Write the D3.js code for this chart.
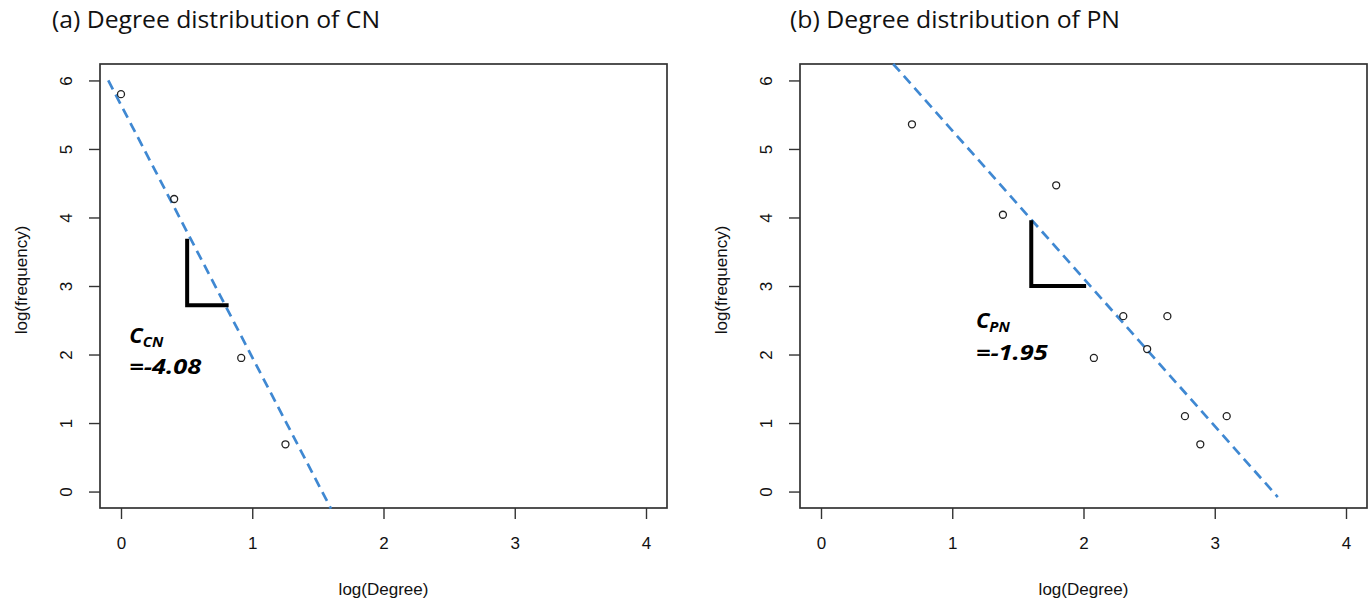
<!DOCTYPE html>
<html><head><meta charset="utf-8">
<script src="https://cdn.jsdelivr.net/npm/d3@7"></script>
<style>
body{margin:0;background:#fff;}
svg{display:block;}
</style></head>
<body><svg id="c" width="1370" height="600"></svg>
<script>
// ---- data ----
const xTicks = [0, 1, 2, 3, 4];
const yTicks = [0, 1, 2, 3, 4, 5, 6];
const titles = ["(a) Degree distribution of CN", "(b) Degree distribution of PN"];
const xTitle = "log(Degree)";
const yTitle = "log(frequency)";

const cnX = [0, 0.405, 0.916, 1.253];
const cnY = [5.80, 4.27, 1.95, 0.69];
const pnX = [0.693, 1.386, 1.792, 2.079, 2.303, 2.485, 2.639, 2.773, 2.890, 3.091];
const pnY = [5.36, 4.04, 4.47, 1.95, 2.56, 2.08, 2.56, 1.10, 0.69, 1.10];

const cnFitX = [-0.097, 1.60];
const cnFitY = [6.0, -0.25];
const pnFitX = [0.55, 3.48];
const pnFitY = [6.24, -0.08];

// slope markers (L shapes): [x of vertical, top y, bottom y, right x]
const cnMarker = [0.504, 3.69, 2.72, 0.82];
const pnMarker = [1.602, 3.96, 3.00, 2.02];
const cnLabel = {x: 0.063, y1: 2.175, y2: 1.72, sub: "CN", val: "=-4.08"};
const pnLabel = {x: 1.18, y1: 2.386, y2: 1.92, sub: "PN", val: "=-1.95"};

const xDomain = [-0.16, 4.16];
const yDomain = [-0.24, 6.24];

// ---- drawing ----
const svg = d3.select("#c");
const panels = [
  {x0: 100, titleX: 52, titleW: 328, px: cnX, py: cnY, fx: cnFitX, fy: cnFitY, m: cnMarker, lab: cnLabel, title: titles[0]},
  {x0: 800, titleX: 790, titleW: 330, px: pnX, py: pnY, fx: pnFitX, fy: pnFitY, m: pnMarker, lab: pnLabel, title: titles[1]}
];
const W = 567, plotTop = 64, plotBottom = 508;
const axisFont = "'Liberation Sans', Arial, sans-serif";
const annFont = "'Open Sans', 'Noto Sans', sans-serif";

panels.forEach(p => {
  const x = d3.scaleLinear().domain(xDomain).range([p.x0, p.x0 + W]);
  const y = d3.scaleLinear().domain(yDomain).range([plotBottom, plotTop]);
  const g = svg.append("g");

  // title
  g.append("text").attr("x", p.titleX).attr("y", 28)
    .attr("font-family", annFont).attr("font-size", 24).attr("fill", "#111")
    .attr("textLength", p.titleW).attr("lengthAdjust", "spacingAndGlyphs")
    .text(p.title);

  // x axis
  const xa = g.append("g").attr("transform", `translate(0,${plotBottom})`)
    .call(d3.axisBottom(x).tickValues(xTicks).tickSize(11).tickPadding(18).tickFormat(d3.format("d")));
  xa.select(".domain").remove();
  xa.selectAll("line").attr("stroke", "#333").attr("stroke-width", 1.4);
  xa.selectAll("text").attr("font-family", axisFont).attr("font-size", 17).attr("fill", "#111");

  // y axis
  const ya = g.append("g").attr("transform", `translate(${p.x0},0)`)
    .call(d3.axisLeft(y).tickValues(yTicks).tickSize(11).tickFormat(d3.format("d")));
  ya.select(".domain").remove();
  ya.selectAll("line").attr("stroke", "#333").attr("stroke-width", 1.4);
  ya.selectAll("text")
    .attr("x", null).attr("dy", null).attr("text-anchor", "middle")
    .attr("transform", "translate(-28,0) rotate(-90)")
    .attr("font-family", axisFont).attr("font-size", 17).attr("fill", "#111");

  // box
  g.append("rect").attr("x", p.x0).attr("y", plotTop).attr("width", W).attr("height", plotBottom - plotTop)
    .attr("fill", "none").attr("stroke", "#333").attr("stroke-width", 1.7);

  // axis titles
  g.append("text").attr("x", p.x0 + W / 2).attr("y", 595).attr("text-anchor", "middle")
    .attr("font-family", axisFont).attr("font-size", 17).attr("fill", "#111").text(xTitle);
  g.append("text").attr("transform", `translate(${p.x0 - 73},280) rotate(-90)`).attr("text-anchor", "middle")
    .attr("font-family", axisFont).attr("font-size", 17).attr("fill", "#111").text(yTitle);

  // fit line
  g.append("line")
    .attr("x1", x(p.fx[0])).attr("y1", y(p.fy[0]))
    .attr("x2", x(p.fx[1])).attr("y2", y(p.fy[1]))
    .attr("stroke", "#3f88d2").attr("stroke-width", 2.7).attr("stroke-dasharray", "10,6");

  // points
  g.selectAll("circle.pt").data(p.px.map((v, i) => [v, p.py[i]])).join("circle")
    .attr("class", "pt")
    .attr("cx", d => x(d[0])).attr("cy", d => y(d[1])).attr("r", 3.5)
    .attr("fill", "none").attr("stroke", "#222").attr("stroke-width", 1.3);

  // slope marker
  const m = p.m;
  g.append("path")
    .attr("d", `M${x(m[0])},${y(m[1])} L${x(m[0])},${y(m[2])} L${x(m[3])},${y(m[2])}`)
    .attr("fill", "none").attr("stroke", "#000").attr("stroke-width", 4);

  // labels
  const t1 = g.append("text").attr("x", x(p.lab.x)).attr("y", y(p.lab.y1))
    .attr("font-family", annFont).attr("font-weight", "bold").attr("font-style", "italic")
    .attr("font-size", 22).attr("fill", "#000");
  t1.append("tspan").text("C");
  t1.append("tspan").attr("font-size", 15).attr("dy", 4).text(p.lab.sub);
  g.append("text").attr("x", x(p.lab.x)).attr("y", y(p.lab.y2))
    .attr("font-family", annFont).attr("font-weight", "bold").attr("font-style", "italic")
    .attr("font-size", 22).attr("fill", "#000")
    .attr("textLength", 72).attr("lengthAdjust", "spacingAndGlyphs")
    .text(p.lab.val);
});
</script></body></html>
